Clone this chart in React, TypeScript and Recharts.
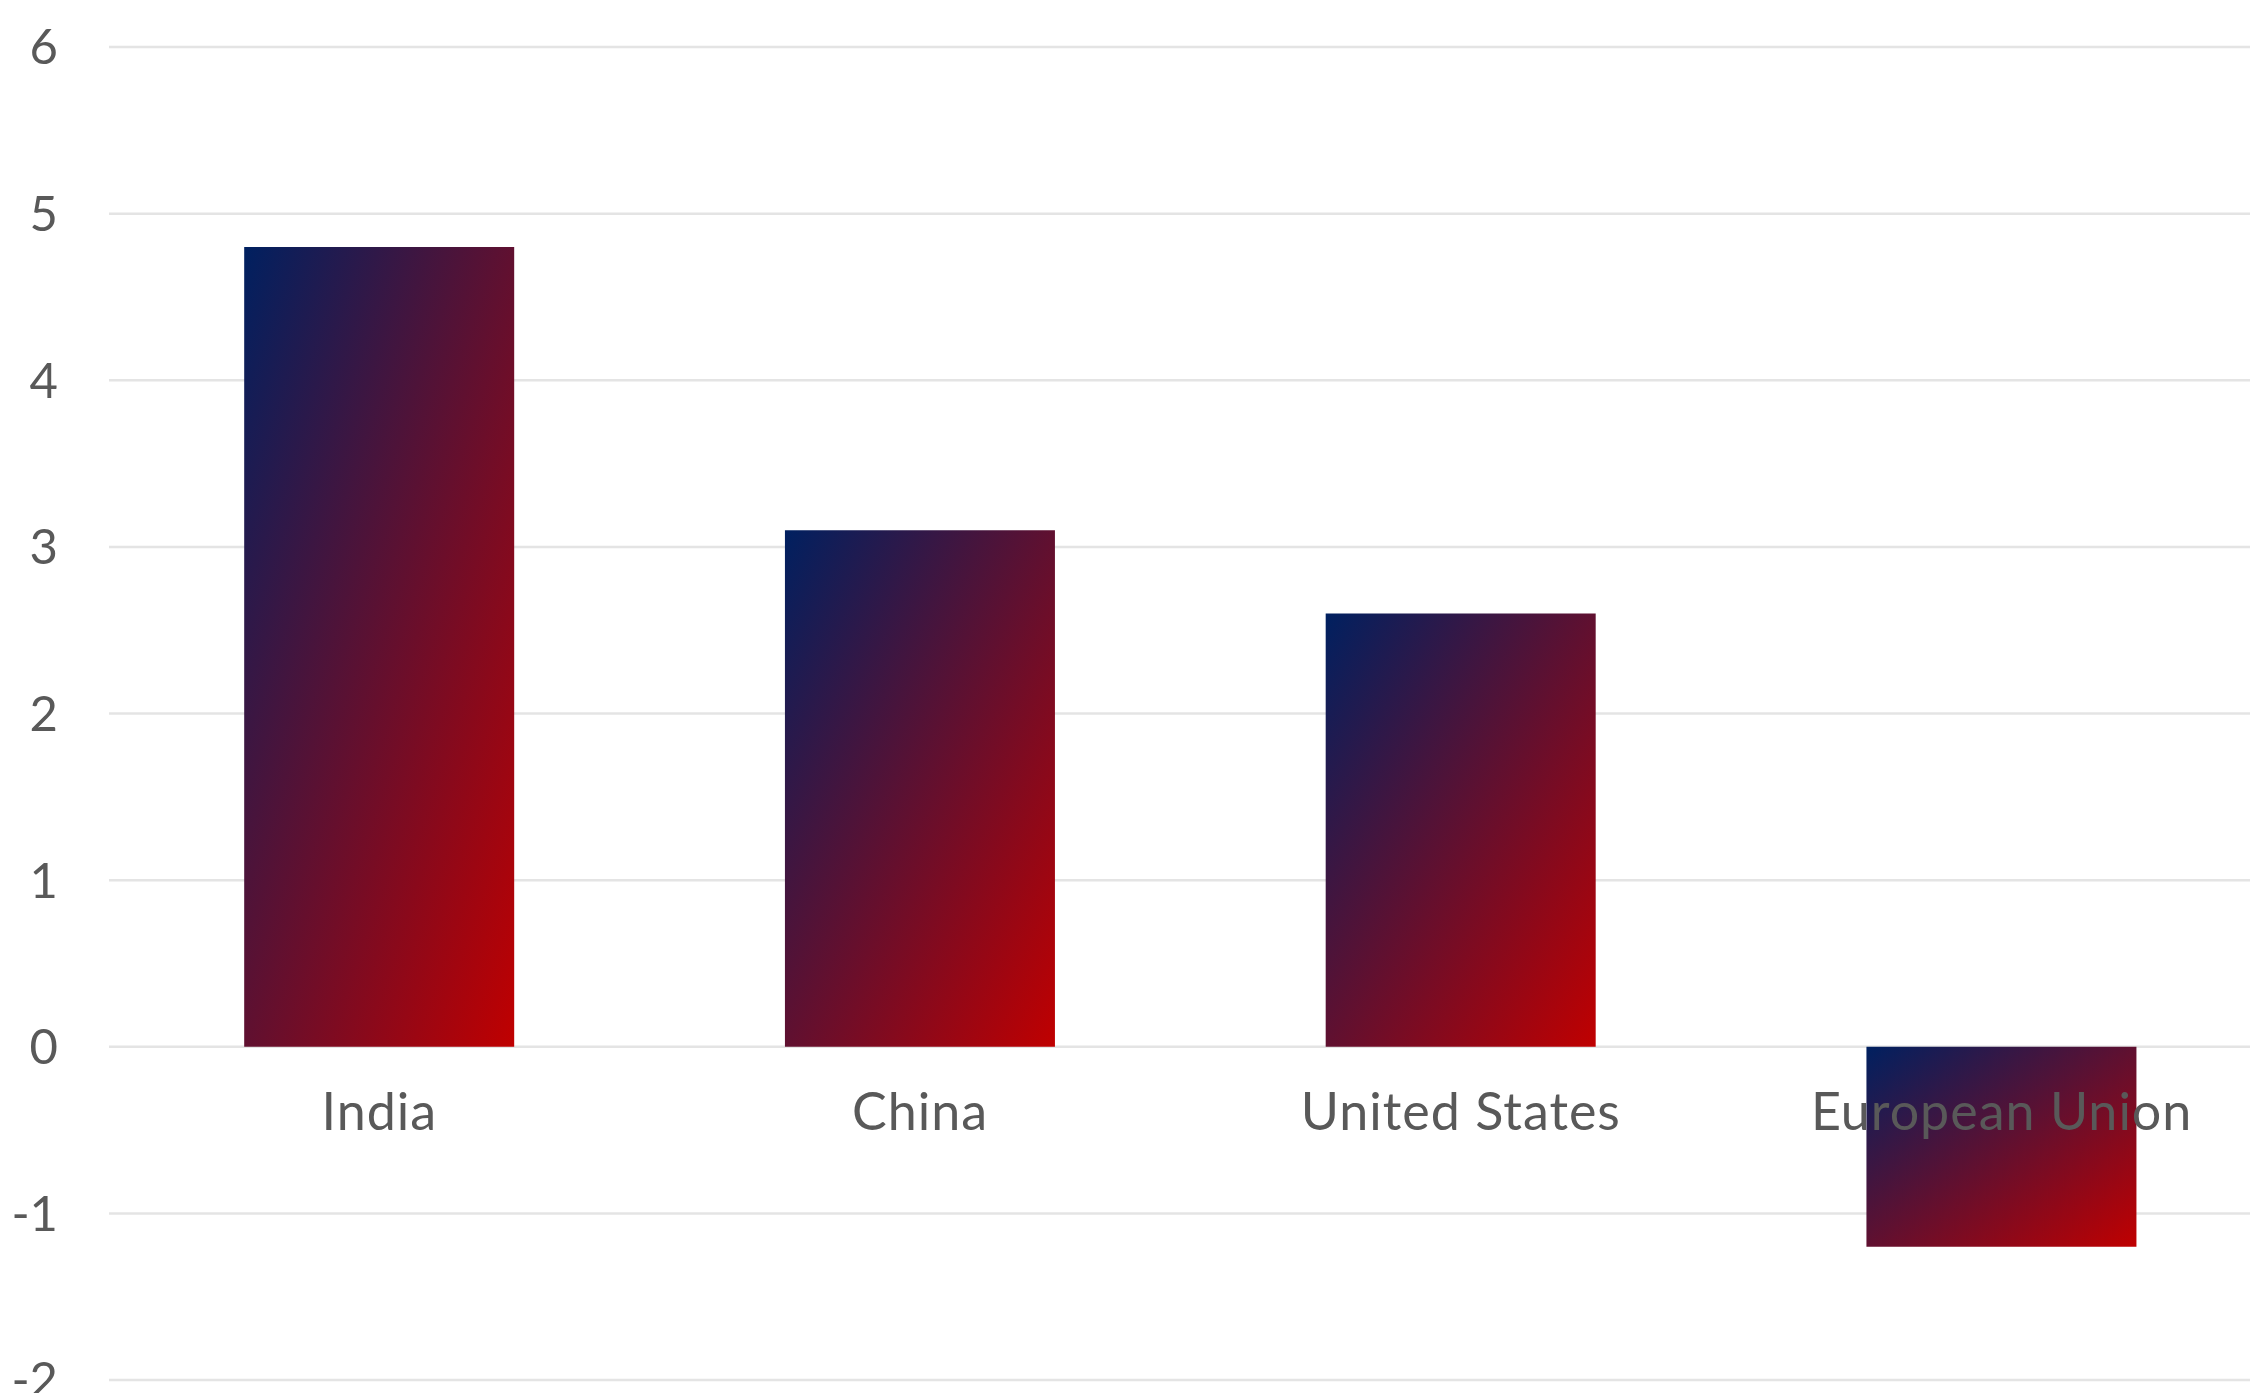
import React from "react";
import { BarChart, Bar, XAxis, YAxis, CartesianGrid } from "recharts";

// Values
const countries = ["India", "China", "United States", "European Union"];
const growth = [4.8, 3.1, 2.6, -1.2];
const yTicks = [-2, -1, 0, 1, 2, 3, 4, 5, 6];

const data = countries.map((name, i) => ({ name, value: growth[i] }));

const CHART_W = 2272;
const CHART_H = 1393;
const X_AXIS_H = 2;
const MARGIN = { top: 47, right: 0, bottom: 11, left: 0 };
const Y_MIN = yTicks[0];
const Y_MAX = yTicks[yTicks.length - 1];
const FONT = "Lato, 'Open Sans', sans-serif";
const TEXT_COLOR = "#595959";

// category labels sit just under the zero line, not at the bottom of the plot
const plotH = CHART_H - MARGIN.top - MARGIN.bottom - X_AXIS_H;
const zeroY = MARGIN.top + (plotH * Y_MAX) / (Y_MAX - Y_MIN);

const CategoryTick = (props: any) => {
  const { x, payload } = props;
  return (
    <text
      x={x}
      y={zeroY + 83}
      textAnchor="middle"
      fill={TEXT_COLOR}
      fontFamily={FONT}
      fontSize={52}
      letterSpacing={1}
    >
      {payload.value}
    </text>
  );
};

export default function App() {
  return (
    <div
      style={{
        position: "fixed",
        top: 0,
        left: 0,
        width: 2250,
        height: 1393,
        overflow: "hidden",
        background: "#fff",
      }}
    >
      <BarChart
        width={CHART_W}
        height={CHART_H}
        data={data}
        margin={MARGIN}
        barCategoryGap="25%"
      >
        <defs>
          <linearGradient id="barGrad" x1="0" y1="0" x2="1" y2="1">
            <stop offset="0%" stopColor="#002060" />
            <stop offset="100%" stopColor="#C00000" />
          </linearGradient>
        </defs>
        <CartesianGrid vertical={false} stroke="#e4e4e4" strokeWidth={2.5} />
        <YAxis
          type="number"
          domain={[Y_MIN, Y_MAX]}
          ticks={yTicks}
          interval={0}
          width={109}
          axisLine={false}
          tickLine={false}
          tickSize={0}
          tickMargin={51}
          tick={{ fill: TEXT_COLOR, fontFamily: FONT, fontSize: 49 }}
        />
        <Bar dataKey="value" fill="url(#barGrad)" isAnimationActive={false} />
        <XAxis
          dataKey="name"
          height={X_AXIS_H}
          axisLine={false}
          tickLine={false}
          interval={0}
          tick={(props: any) => <CategoryTick {...props} />}
        />
      </BarChart>
    </div>
  );
}
